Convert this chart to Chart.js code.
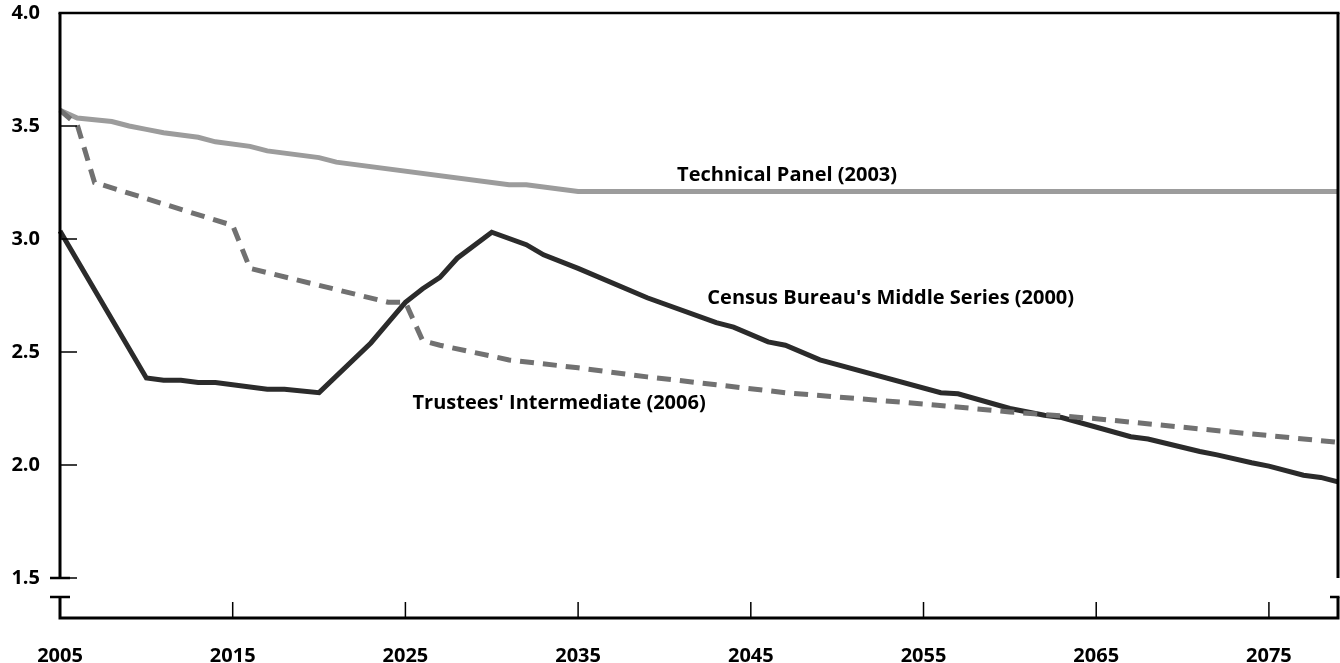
<!DOCTYPE html>
<html>
<head>
<meta charset="utf-8">
<script src="https://cdn.jsdelivr.net/npm/chart.js@4.4.1/dist/chart.umd.min.js"></script>
<style>
  html, body { margin: 0; padding: 0; background: #fff; }
  #wrap { width: 1340px; height: 663px; }
</style>
</head>
<body>
<div id="wrap"><canvas id="chart"></canvas></div>
<script>
// Technical Panel (2003)
var tpYears  = [2005, 2006, 2008, 2009, 2010, 2011, 2013, 2014, 2016, 2017, 2020, 2021, 2031, 2032, 2035, 2079];
var tpValues = [3.57, 3.535, 3.52, 3.50, 3.485, 3.47, 3.45, 3.43, 3.41, 3.39, 3.36, 3.34, 3.24, 3.24, 3.21, 3.21];

// Trustees' Intermediate (2006)
var trYears  = [2005, 2006, 2007, 2015, 2016, 2024, 2025, 2026, 2027, 2031, 2035, 2039, 2043, 2047, 2051, 2055, 2060, 2065, 2070, 2075, 2079];
var trValues = [3.57, 3.505, 3.25, 3.06, 2.87, 2.72, 2.72, 2.55, 2.53, 2.465, 2.43, 2.39, 2.355, 2.32, 2.295, 2.27, 2.235, 2.205, 2.167, 2.13, 2.10];

// Census Bureau's Middle Series (2000)
var ceYears  = [2005, 2010, 2011, 2012, 2013, 2014, 2017, 2018, 2020, 2023, 2024, 2025, 2026, 2027, 2028, 2030,
                2032, 2033, 2035, 2039, 2043, 2044, 2046, 2047, 2049, 2056, 2057, 2060, 2062, 2063, 2067, 2068,
                2071, 2072, 2074, 2075, 2077, 2078, 2079];
var ceValues = [3.035, 2.385, 2.375, 2.375, 2.365, 2.365, 2.335, 2.335, 2.32, 2.54, 2.63, 2.72, 2.78, 2.83, 2.915, 3.03,
                2.975, 2.93, 2.87, 2.74, 2.63, 2.61, 2.545, 2.53, 2.465, 2.32, 2.315, 2.25, 2.22, 2.21, 2.125, 2.115,
                2.06, 2.045, 2.01, 1.995, 1.955, 1.945, 1.925];

var xTicks = [2005, 2015, 2025, 2035, 2045, 2055, 2065, 2075];
var yTicks = [1.5, 2.0, 2.5, 3.0, 3.5, 4.0];

var seriesLabels = ["Technical Panel (2003)", "Census Bureau's Middle Series (2000)", "Trustees' Intermediate (2006)"];

function toPoints(years, values) {
    return years.map(function (y, i) {
        return { x: y, y: values[i] };
    });
}

var FONT = { family: "'Open Sans', sans-serif", size: 20, weight: "bold" };

// axes frame, inward ticks, axis break and in-plot labels
var framePlugin = {
    id: "frame",
    afterDatasetsDraw: function (chart) {
        var ctx = chart.ctx;
        var a = chart.chartArea;
        var xs = chart.scales.x;
        var ys = chart.scales.y;
        var breakTop = ys.getPixelForValue(1.5);
        var breakBottom = breakTop + 19;

        ctx.save();
        ctx.strokeStyle = "#000";
        ctx.lineCap = "butt";

        ctx.lineWidth = 2.5;
        ctx.beginPath();
        ctx.moveTo(a.left - 1.5, a.top);
        ctx.lineTo(a.right + 1.5, a.top);
        ctx.stroke();

        ctx.lineWidth = 3;
        ctx.beginPath();
        ctx.moveTo(a.left, a.top);
        ctx.lineTo(a.left, breakTop);
        ctx.moveTo(a.left, breakBottom);
        ctx.lineTo(a.left, a.bottom);
        ctx.lineTo(a.right, a.bottom);
        ctx.lineTo(a.right, breakBottom);
        ctx.moveTo(a.right, breakTop);
        ctx.lineTo(a.right, a.top);
        ctx.stroke();

        ctx.lineWidth = 2.5;
        ctx.beginPath();
        ctx.moveTo(a.left - 10, breakTop);
        ctx.lineTo(a.left + 10, breakTop);
        ctx.moveTo(a.left - 10, breakBottom);
        ctx.lineTo(a.left + 10, breakBottom);
        ctx.moveTo(a.right - 8, breakBottom);
        ctx.lineTo(a.right + 1.5, breakBottom);
        ctx.stroke();

        ctx.lineWidth = 1.5;
        ctx.beginPath();
        yTicks.forEach(function (v) {
            if (v === 4.0) return;
            var py = ys.getPixelForValue(v);
            ctx.moveTo(a.left, py);
            ctx.lineTo(a.left + 17, py);
        });
        xTicks.forEach(function (v) {
            if (v === 2005) return;
            var px = xs.getPixelForValue(v);
            ctx.moveTo(px, a.bottom);
            ctx.lineTo(px, a.bottom - 16);
        });
        ctx.stroke();

        ctx.fillStyle = "#000";
        ctx.font = "bold 20px 'Open Sans', sans-serif";
        ctx.textAlign = "center";
        ctx.textBaseline = "middle";
        ctx.fillText(seriesLabels[0], xs.getPixelForValue(2047.1), ys.getPixelForValue(3.283));
        ctx.fillText(seriesLabels[1], xs.getPixelForValue(2053.1), ys.getPixelForValue(2.739));
        ctx.fillText(seriesLabels[2], xs.getPixelForValue(2033.9), ys.getPixelForValue(2.274));
        ctx.restore();
    }
};

new Chart(document.getElementById("chart").getContext("2d"), {
    type: "line",
    data: {
        datasets: [
            {
                label: seriesLabels[2],
                data: toPoints(trYears, trValues),
                borderColor: "#717171",
                borderWidth: 5,
                borderDash: [14, 9],
                pointRadius: 0,
                tension: 0,
                clip: 4,
            },
            {
                label: seriesLabels[0],
                data: toPoints(tpYears, tpValues),
                borderColor: "#9c9c9c",
                borderWidth: 5,
                pointRadius: 0,
                tension: 0,
                clip: 4,
            },
            {
                label: seriesLabels[1],
                data: toPoints(ceYears, ceValues),
                borderColor: "#2b2b2b",
                borderWidth: 5,
                pointRadius: 0,
                tension: 0,
                clip: 4,
            },
        ],
    },
    options: {
        responsive: true,
        maintainAspectRatio: false,
        animation: false,
        events: [],
        layout: { padding: { top: 13, right: 2, left: 0, bottom: 0 } },
        plugins: {
            legend: { display: false },
            tooltip: { enabled: false },
            title: { display: false },
        },
        scales: {
            x: {
                type: "linear",
                min: 2005,
                max: 2079,
                grid: { display: false, drawTicks: false },
                border: { display: false },
                afterBuildTicks: function (scale) {
                    scale.ticks = xTicks.map(function (v) { return { value: v }; });
                },
                afterFit: function (scale) {
                    scale.height = 45;
                    scale.paddingLeft = 0;
                    scale.paddingRight = 0;
                },
                ticks: {
                    color: "#000",
                    font: FONT,
                    padding: 26,
                    maxRotation: 0,
                    autoSkip: false,
                    callback: function (v) { return String(v); },
                },
            },
            y: {
                min: 1.323,
                max: 4.0,
                grid: { display: false, drawTicks: false },
                border: { display: false },
                afterBuildTicks: function (scale) {
                    scale.ticks = yTicks.map(function (v) { return { value: v }; });
                },
                afterFit: function (scale) {
                    scale.width = 60;
                    scale.paddingTop = 0;
                    scale.paddingBottom = 0;
                },
                ticks: {
                    color: "#000",
                    font: FONT,
                    padding: 20,
                    autoSkip: false,
                    callback: function (v) { return v.toFixed(1); },
                },
            },
        },
    },
    plugins: [framePlugin],
});
</script>
</body>
</html>
